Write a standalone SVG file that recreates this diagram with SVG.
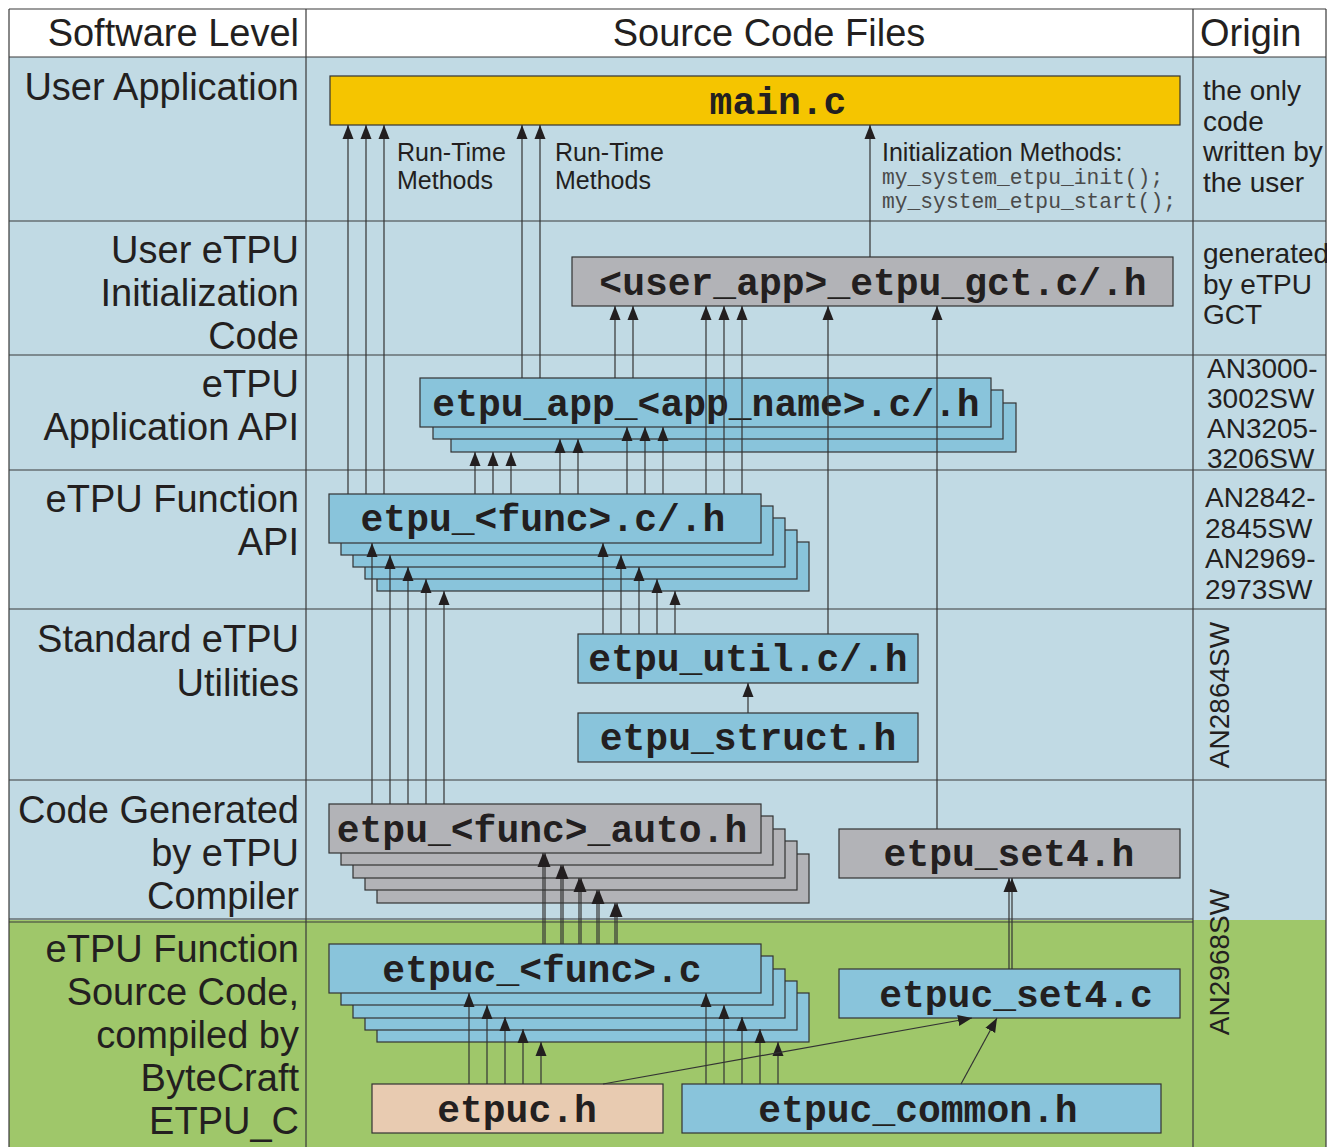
<svg xmlns="http://www.w3.org/2000/svg" width="1327" height="1147" viewBox="0 0 1327 1147">
<defs>
<style>
.lbl{font-family:"Liberation Sans",Arial,sans-serif;font-size:38px;fill:#231f20;text-anchor:end}
.hdr{font-family:"Liberation Sans",Arial,sans-serif;font-size:38px;fill:#231f20}
.org{font-family:"Liberation Sans",Arial,sans-serif;font-size:28px;fill:#231f20}
.note{font-family:"Liberation Sans",Arial,sans-serif;font-size:25px;fill:#231f20}
.code{font-family:"Liberation Mono","Courier New",monospace;font-size:21.3px;fill:#4a4a4a}
.nt{font-family:"Liberation Mono","Courier New",monospace;font-size:38px;font-weight:bold;fill:#231f20;text-anchor:middle}
.grid{stroke:#3a3a3a;stroke-width:1.2;fill:none}
.bx{stroke:#333;stroke-width:1.2}
.blue{fill:#89c4db}
.gray{fill:#b2b3b7}
.yel{fill:#f5c500}
.peach{fill:#e8cbb1}
.c{stroke:#333;stroke-width:1.2;fill:none;marker-end:url(#ah)}
</style>
<marker id="ah" markerWidth="14" markerHeight="12" refX="14" refY="6" orient="auto" markerUnits="userSpaceOnUse">
<path d="M0,0.5 L14,6 L0,11.5 z" fill="#231f20"/>
</marker>
</defs>

<g id="table">
<rect x="9" y="9" width="1317" height="48" fill="#ffffff"/>
<rect x="9" y="57" width="1317" height="863" fill="#c1dae4"/>
<rect x="9" y="920" width="1317" height="227" fill="#9fc76a"/>
<path class="grid" d="M9,9 H1326 M9,57 H1326 M9,221 H1326 M9,355 H1326 M9,470 H1326 M9,609 H1326 M9,780 H1326 M9,919 H1193 M9,922 H1193 M9,9 V1147 M306,9 V1147 M1193,9 V1147 M1326,9 V1147"/>
<text class="hdr" x="299" y="46" text-anchor="end">Software Level</text>
<text class="hdr" x="769" y="46" text-anchor="middle">Source Code Files</text>
<text class="hdr" x="1200" y="46">Origin</text>
<text class="lbl" x="299" y="100">User Application</text>
<text class="lbl" x="299" y="263">User eTPU</text>
<text class="lbl" x="299" y="306">Initialization</text>
<text class="lbl" x="299" y="349">Code</text>
<text class="lbl" x="299" y="397">eTPU</text>
<text class="lbl" x="299" y="440">Application API</text>
<text class="lbl" x="299" y="512">eTPU Function</text>
<text class="lbl" x="299" y="555">API</text>
<text class="lbl" x="299" y="652">Standard eTPU</text>
<text class="lbl" x="299" y="696">Utilities</text>
<text class="lbl" x="299" y="823">Code Generated</text>
<text class="lbl" x="299" y="866">by eTPU</text>
<text class="lbl" x="299" y="909">Compiler</text>
<text class="lbl" x="299" y="962">eTPU Function</text>
<text class="lbl" x="299" y="1005">Source Code,</text>
<text class="lbl" x="299" y="1048">compiled by</text>
<text class="lbl" x="299" y="1091">ByteCraft</text>
<text class="lbl" x="299" y="1134">ETPU_C</text>
<text class="org" x="1203" y="100">the only</text>
<text class="org" x="1203" y="131">code</text>
<text class="org" x="1203" y="161">written by</text>
<text class="org" x="1203" y="192">the user</text>
<text class="org" x="1203" y="263">generated</text>
<text class="org" x="1203" y="294">by eTPU</text>
<text class="org" x="1203" y="324">GCT</text>
<text class="org" x="1207" y="378">AN3000-</text>
<text class="org" x="1207" y="408">3002SW</text>
<text class="org" x="1207" y="438">AN3205-</text>
<text class="org" x="1207" y="468">3206SW</text>
<text class="org" x="1205" y="507">AN2842-</text>
<text class="org" x="1205" y="538">2845SW</text>
<text class="org" x="1205" y="568">AN2969-</text>
<text class="org" x="1205" y="599">2973SW</text>
<text class="org" transform="translate(1229,695) rotate(-90)" text-anchor="middle">AN2864SW</text>
<text class="org" transform="translate(1229,962) rotate(-90)" text-anchor="middle">AN2968SW</text>
<text class="note" x="397" y="161">Run-Time</text>
<text class="note" x="397" y="189">Methods</text>
<text class="note" x="555" y="161">Run-Time</text>
<text class="note" x="555" y="189">Methods</text>
<text class="note" x="882" y="161">Initialization Methods:</text>
<text class="code" x="882" y="184">my_system_etpu_init();</text>
<text class="code" x="882" y="208">my_system_etpu_start();</text>
</g>

<g id="main_c">
<rect class="bx yel" x="330" y="76" width="850" height="49"/>
<text class="nt" x="778" y="114">main.c</text>
</g>

<g id="gct">
<rect class="bx gray" x="572" y="257" width="601" height="49"/>
<text class="nt" x="873" y="295">&lt;user_app&gt;_etpu_gct.c/.h</text>
</g>

<g id="etpu_app">
<rect class="bx blue" x="451" y="403" width="565" height="49"/>
<rect class="bx blue" x="433" y="390" width="570" height="49"/>
<rect class="bx blue" x="420" y="378" width="571" height="49"/>
<text class="nt" x="706" y="416">etpu_app_&lt;app_name&gt;.c/.h</text>
</g>

<g id="etpu_func">
<rect class="bx blue" x="377" y="542" width="432" height="49"/>
<rect class="bx blue" x="365" y="530" width="432" height="49"/>
<rect class="bx blue" x="353" y="518" width="432" height="49"/>
<rect class="bx blue" x="341" y="506" width="432" height="49"/>
<rect class="bx blue" x="329" y="494" width="432" height="49"/>
<text class="nt" x="543" y="531">etpu_&lt;func&gt;.c/.h</text>
</g>

<g id="etpu_util">
<rect class="bx blue" x="578" y="634" width="340" height="49"/>
<text class="nt" x="748" y="671">etpu_util.c/.h</text>
</g>

<g id="etpu_struct">
<rect class="bx blue" x="578" y="713" width="340" height="49"/>
<text class="nt" x="748" y="750">etpu_struct.h</text>
</g>

<g id="etpu_auto">
<rect class="bx gray" x="377" y="854" width="432" height="49"/>
<rect class="bx gray" x="365" y="841" width="432" height="49"/>
<rect class="bx gray" x="353" y="829" width="432" height="49"/>
<rect class="bx gray" x="341" y="816" width="432" height="49"/>
<rect class="bx gray" x="329" y="804" width="432" height="49"/>
<text class="nt" x="542" y="842">etpu_&lt;func&gt;_auto.h</text>
</g>

<g id="etpu_set4_h">
<rect class="bx gray" x="839" y="829" width="341" height="49"/>
<text class="nt" x="1009" y="866">etpu_set4.h</text>
</g>

<g id="etpuc_func">
<rect class="bx blue" x="377" y="993" width="432" height="49"/>
<rect class="bx blue" x="365" y="981" width="432" height="49"/>
<rect class="bx blue" x="353" y="969" width="432" height="49"/>
<rect class="bx blue" x="341" y="956" width="432" height="49"/>
<rect class="bx blue" x="329" y="944" width="432" height="49"/>
<text class="nt" x="542" y="982">etpuc_&lt;func&gt;.c</text>
</g>

<g id="etpuc_set4_c">
<rect class="bx blue" x="839" y="969" width="341" height="49"/>
<text class="nt" x="1016" y="1007">etpuc_set4.c</text>
</g>

<g id="etpuc_h">
<rect class="bx peach" x="372" y="1084" width="291" height="49"/>
<text class="nt" x="517" y="1122">etpuc.h</text>
</g>

<g id="etpuc_common_h">
<rect class="bx blue" x="682" y="1084" width="479" height="49"/>
<text class="nt" x="918" y="1122">etpuc_common.h</text>
</g>

<g id="connectors">
<path class="c" d="M348,494 V125"/>
<path class="c" d="M366,494 V125"/>
<path class="c" d="M384,494 V125"/>
<path class="c" d="M522,378 V125"/>
<path class="c" d="M540,378 V125"/>
<path class="c" d="M870,257 V125"/>
<path class="c" d="M615,378 V306"/>
<path class="c" d="M633,378 V306"/>
<path class="c" d="M706,494 V306"/>
<path class="c" d="M724,494 V306"/>
<path class="c" d="M742,494 V306"/>
<path class="c" d="M828,634 V306"/>
<path class="c" d="M937,829 V306"/>
<path class="c" d="M475,494 V452"/>
<path class="c" d="M493,494 V452"/>
<path class="c" d="M511,494 V452"/>
<path class="c" d="M560,494 V439"/>
<path class="c" d="M578,494 V439"/>
<path class="c" d="M627,494 V427"/>
<path class="c" d="M645,494 V427"/>
<path class="c" d="M663,494 V427"/>
<path class="c" d="M603,634 V543"/>
<path class="c" d="M621,634 V555"/>
<path class="c" d="M639,634 V567"/>
<path class="c" d="M657,634 V579"/>
<path class="c" d="M675,634 V591"/>
<path class="c" d="M748,713 V683"/>
<path class="c" d="M372,804 V543"/>
<path class="c" d="M390,804 V555"/>
<path class="c" d="M408,804 V567"/>
<path class="c" d="M426,804 V579"/>
<path class="c" d="M444,804 V591"/>
<path class="c" d="M543,944 V853"/>
<path class="c" d="M545,944 V853"/>
<path class="c" d="M561,944 V865"/>
<path class="c" d="M563,944 V865"/>
<path class="c" d="M579,944 V878"/>
<path class="c" d="M581,944 V878"/>
<path class="c" d="M597,944 V890"/>
<path class="c" d="M599,944 V890"/>
<path class="c" d="M615,944 V903"/>
<path class="c" d="M617,944 V903"/>
<path class="c" d="M1009,969 V878"/>
<path class="c" d="M1012,969 V878"/>
<path class="c" d="M469,1084 V993"/>
<path class="c" d="M487,1084 V1005"/>
<path class="c" d="M505,1084 V1017"/>
<path class="c" d="M523,1084 V1029"/>
<path class="c" d="M541,1084 V1042"/>
<path class="c" d="M706,1084 V993"/>
<path class="c" d="M724,1084 V1005"/>
<path class="c" d="M742,1084 V1017"/>
<path class="c" d="M760,1084 V1029"/>
<path class="c" d="M778,1084 V1042"/>
<path class="c" d="M603,1084 L972,1018"/>
<path class="c" d="M961,1084 L997,1018"/>
</g>
</svg>
